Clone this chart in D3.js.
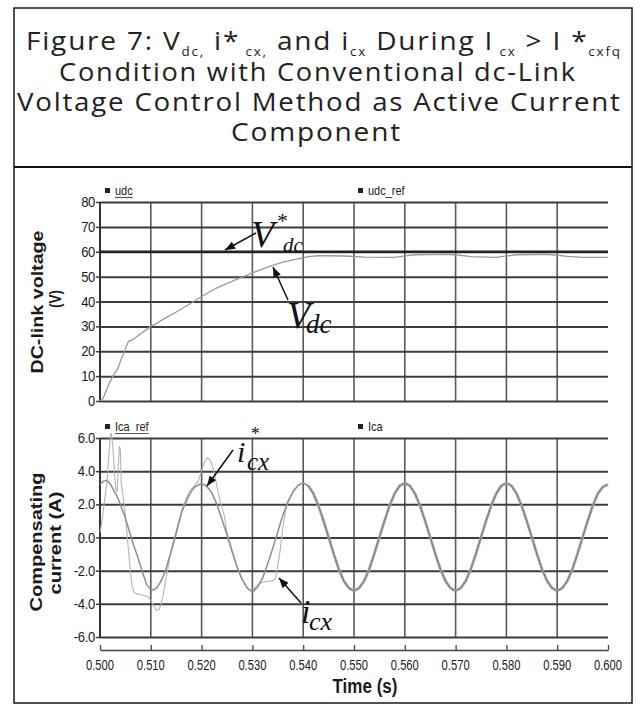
<!DOCTYPE html>
<html><head><meta charset="utf-8">
<script src="https://cdn.jsdelivr.net/npm/d3@7"></script>
<style>body{margin:0;background:#fff}</style>
</head><body>
<svg id="c" width="644" height="711" xmlns="http://www.w3.org/2000/svg"></svg>
<script>
// ---------- data ----------
const timeTicks = [0.500,0.510,0.520,0.530,0.540,0.550,0.560,0.570,0.580,0.590,0.600];
const timeTickLabels = ["0.500","0.510","0.520","0.530","0.540","0.550","0.560","0.570","0.580","0.590","0.600"];
const voltTicks = [0,10,20,30,40,50,60,70,80];
const voltTickLabels = ["0","10","20","30","40","50","60","70","80"];
const currTicks = [-6,-4,-2,0,2,4,6];
const currTickLabels = ["-6.0","-4.0","-2.0","0.0","2.0","4.0","6.0"];

const udc = [[0.5000,0],[0.5006,1],[0.5012,4],[0.5019,7.5],[0.5027,10.5],[0.5035,13],[0.5042,17],
 [0.5050,21],[0.5056,24],[0.5063,24.5],[0.5070,25.5],[0.5080,27],[0.5090,28.5],[0.5100,30],
 [0.5110,31],[0.5120,32.3],[0.5130,33.5],[0.5146,35.3],[0.5160,37],[0.5180,39.4],[0.5195,41.4],
 [0.5210,43.2],[0.5230,45.5],[0.5253,47.5],[0.5270,49],[0.5292,50.8],[0.5310,52.3],[0.5335,54.2],
 [0.5360,55.8],[0.5387,57],[0.5410,58],[0.5430,58.4],[0.5450,58.4],[0.5480,58.3],[0.5500,58.1],
 [0.5520,57.8],[0.5580,57.7],[0.5600,58.3],[0.5620,58.8],[0.5680,59.0],[0.5705,58.7],[0.5730,58.0],
 [0.5780,57.7],[0.5800,58.3],[0.5820,58.8],[0.5880,59.0],[0.5900,58.6],[0.5920,58.1],[0.5950,57.7],[0.6000,57.7]];
const udcRef = [[0.500,60],[0.600,60]];

const icaRefStart = [[0.5000,3.20],[0.5007,3.40],[0.5013,3.45],[0.5020,3.25],[0.5028,2.80],[0.5035,2.40],
 [0.5041,1.90],[0.5048,1.35],[0.5054,0.75],[0.5060,0.15],[0.5066,-0.45],[0.5073,-1.05],[0.5079,-1.65],
 [0.5086,-2.30],[0.5092,-2.85],[0.5097,-3.05],[0.5101,-3.15],[0.5106,-3.15],[0.5111,-3.05],[0.5117,-2.80],
 [0.5123,-2.45],[0.5130,-1.90],[0.5136,-1.25],[0.5143,-0.55],[0.5149,0.15],[0.5155,0.85],[0.5161,1.55],
 [0.5168,2.05],[0.5174,2.45],[0.5180,2.80],[0.5187,3.05],[0.5194,3.18],[0.5200,3.22],[0.5207,3.15],
 [0.5214,2.95],[0.5220,2.70],[0.5230,2.00],[0.5240,1.10],[0.5250,0.15],[0.5260,-0.85],[0.5270,-1.80],
 [0.5280,-2.55],[0.5290,-3.05],[0.5300,-3.30],[0.5310,-3.00],[0.5320,-2.45],[0.5330,-1.60],[0.5340,-0.65],
 [0.5350,0.35],[0.5360,1.35],[0.5370,2.15],[0.5380,2.75],[0.5390,3.15],[0.5400,3.30]];

const icaStart = [[0.5000,0.30],[0.5004,1.00],[0.5008,2.00],[0.5011,2.70],[0.5014,3.40],[0.5017,4.80],
 [0.5020,6.00],[0.5022,6.30],[0.5025,5.60],[0.5028,4.20],[0.5031,2.90],[0.5034,2.80],[0.5036,4.20],
 [0.5038,5.50],[0.5040,5.30],[0.5042,3.20],[0.5045,2.60],[0.5049,1.60],[0.5053,0.30],[0.5057,-1.10],
 [0.5060,-2.10],[0.5063,-2.90],[0.5067,-3.30],[0.5072,-3.40],[0.5080,-3.45],[0.5088,-3.50],[0.5095,-3.60],
 [0.5101,-3.85],[0.5106,-4.15],[0.5111,-4.40],[0.5116,-4.35],[0.5120,-4.05],[0.5124,-3.50],[0.5128,-2.80],
 [0.5133,-2.00],[0.5138,-1.10],[0.5143,-0.40],[0.5149,0.25],[0.5155,0.95],[0.5161,1.65],[0.5168,2.20],
 [0.5174,2.65],[0.5180,2.95],[0.5187,3.15],[0.5193,3.40],[0.5199,3.90],[0.5205,4.50],[0.5211,4.80],
 [0.5217,4.65],[0.5222,4.25],[0.5227,3.60],[0.5232,2.80],[0.5238,2.00],[0.5244,1.40],[0.5250,0.30],
 [0.5260,-0.75],[0.5270,-1.75],[0.5280,-2.55],[0.5290,-3.05],[0.5300,-3.25],[0.5310,-2.85],[0.5320,-2.70],
 [0.5330,-2.65],[0.5340,-2.60],[0.5345,-2.50],[0.5350,-1.70],[0.5355,-0.70],[0.5360,0.60],[0.5365,1.60],
 [0.5370,2.20],[0.5380,2.80],[0.5390,3.15],[0.5400,3.30]];

// steady state (both traces coincide)
const steadyState = [[0.541,3.12],[0.542,2.65],[0.543,1.92],[0.544,1.00],[0.545,0.02],[0.546,-0.98],
 [0.547,-1.90],[0.548,-2.62],[0.549,-3.05],[0.550,-3.22],[0.551,-3.05],[0.552,-2.62],[0.553,-1.90],
 [0.554,-0.98],[0.555,0.02],[0.556,1.00],[0.557,1.92],[0.558,2.65],[0.559,3.12],[0.560,3.28],
 [0.561,3.12],[0.562,2.65],[0.563,1.92],[0.564,1.00],[0.565,0.02],[0.566,-0.98],[0.567,-1.90],
 [0.568,-2.62],[0.569,-3.05],[0.570,-3.22],[0.571,-3.05],[0.572,-2.62],[0.573,-1.90],[0.574,-0.98],
 [0.575,0.02],[0.576,1.00],[0.577,1.92],[0.578,2.65],[0.579,3.12],[0.580,3.28],[0.581,3.12],
 [0.582,2.65],[0.583,1.92],[0.584,1.00],[0.585,0.02],[0.586,-0.98],[0.587,-1.90],[0.588,-2.62],
 [0.589,-3.05],[0.590,-3.22],[0.591,-3.05],[0.592,-2.62],[0.593,-1.90],[0.594,-0.98],[0.595,0.02],
 [0.596,1.00],[0.597,1.92],[0.598,2.65],[0.599,3.05],[0.600,3.20]];

const icaRef = icaRefStart.concat(steadyState);
const ica = icaStart.concat(steadyState);

const titleLines = [
  [["Figure 7: V",0],["dc,",1],[" i*",0],[" cx,",1],[" and i",0],["cx",1],[" During I",0],[" cx",1],[" > I *",0],["cxfq",1]],
  [["Condition with Conventional dc-Link",0]],
  [["Voltage Control Method as Active Current",0]],
  [["Component",0]]
];

// ---------- drawing ----------
const svg = d3.select("#c");
svg.append("rect").attr("width",644).attr("height",711).attr("fill","#fff");
const X0 = 100, X1 = 608;
const x = d3.scaleLinear().domain([0.5,0.6]).range([X0,X1]);
const yV = d3.scaleLinear().domain([0,80]).range([401,202]);
const yI = d3.scaleLinear().domain([-6,6]).range([637,438]);

// frame
svg.append("rect").attr("x",14).attr("y",8).attr("width",618).attr("height",695)
  .attr("fill","none").attr("stroke","#1a1a1a").attr("stroke-width",1.5);
svg.append("line").attr("x1",14).attr("x2",632).attr("y1",167).attr("y2",167)
  .attr("stroke","#111").attr("stroke-width",2.2);

// title
const titleX = [26,59,17,231], titleW = [596,518,605,171], titleY = [50,80.5,110.5,140.5];
titleLines.forEach((parts,i)=>{
  const t = svg.append("text")
    .attr("font-family","'Open Sans', Lato, sans-serif").attr("font-size",25).attr("font-weight",400)
    .attr("fill","#222").style("letter-spacing","1.6px");
  let sub = 0;
  parts.forEach(([s,isSub])=>{
    const ts = t.append("tspan").text(s);
    if (isSub && !sub) { ts.attr("dy",6).attr("font-size",12); sub=1; }
    else if (isSub) ts.attr("font-size",12);
    else if (!isSub && sub) { ts.attr("dy",-6); sub=0; }
  });
  const w = t.node().getComputedTextLength();
  t.attr("transform",`translate(${titleX[i]},${titleY[i]}) scale(${titleW[i]/w},1)`);
});

function panel(y, ticks, labels) {
  const g = svg.append("g");
  const [yb, yt] = y.range();
  g.selectAll("line.v").data(timeTicks.slice(1,-1)).join("line")
    .attr("x1",d=>x(d)).attr("x2",d=>x(d)).attr("y1",yt).attr("y2",yb)
    .attr("stroke","#5a5a5a").attr("stroke-width",1.6);
  const grid = g.append("g").attr("transform",`translate(${X0},0)`)
    .call(d3.axisLeft(y).tickValues(ticks).tickSizeInner(-(X1-X0)).tickSizeOuter(0).tickFormat(""));
  grid.select(".domain").remove();
  grid.selectAll("line").attr("stroke","#3c3c3c").attr("stroke-width",2);
  const tk = g.append("g").attr("transform",`translate(${X0},0)`)
    .call(d3.axisLeft(y).tickValues(ticks).tickSize(4).tickFormat(""));
  tk.select(".domain").remove();
  tk.selectAll("line").attr("stroke","#3c3c3c").attr("stroke-width",1.5);
  g.append("line").attr("x1",X0).attr("x2",X0).attr("y1",yt).attr("y2",yb)
    .attr("stroke","#333").attr("stroke-width",2);
  g.selectAll("text.yl").data(ticks).join("text")
    .attr("transform",d=>`translate(95,${y(d)+5}) scale(1,1.1)`).attr("text-anchor","end")
    .attr("font-family","'Liberation Sans', Arial, sans-serif").attr("font-size",13).attr("fill","#1a1a1a")
    .attr("letter-spacing",-0.3)
    .text((d,i)=>labels[i]);
}
panel(yV, voltTicks, voltTickLabels);
panel(yI, currTicks, currTickLabels);

// x axis
const xa = svg.append("g").attr("transform","translate(0,650)")
  .call(d3.axisBottom(x).tickValues(timeTicks).tickSizeInner(-5).tickSizeOuter(0).tickFormat(""));
xa.select(".domain").attr("stroke","#444").attr("stroke-width",1.5);
xa.selectAll("line").attr("stroke","#444").attr("stroke-width",1.3);
svg.selectAll("text.xl").data(timeTicks).join("text")
  .attr("transform",d=>`translate(${x(d)},670) scale(1,1.25)`).attr("text-anchor","middle")
  .attr("font-family","'Liberation Sans', Arial, sans-serif").attr("font-size",12).attr("fill","#1a1a1a")
  .attr("textLength",28).attr("lengthAdjust","spacingAndGlyphs")
  .text((d,i)=>timeTickLabels[i]);

// axis titles
function stretched(tx,ty,s,size,sy,rot,len){
  const t = svg.append("text").attr("transform",`translate(${tx},${ty}) rotate(${rot}) scale(1,${sy})`)
    .attr("text-anchor","middle").attr("font-family","'Liberation Sans', Arial, sans-serif")
    .attr("font-weight","bold").attr("font-size",size).attr("fill","#1a1a1a").text(s);
  if (len) t.attr("textLength",len).attr("lengthAdjust","spacingAndGlyphs");
  return t;
}
stretched(43,302,"DC-link voltage",16,1,-90,143);
stretched(61,299,"(V)",16,1,-90,18);
stretched(42,542,"Compensating",16,1,-90,139);
stretched(61,543,"current (A)",16,1,-90,103);
stretched(365,693,"Time (s)",16,1.3,0,65);

// legends
function legend(lx,ly,s,underline){
  svg.append("rect").attr("x",lx).attr("y",ly-7).attr("width",5).attr("height",5).attr("fill","#222");
  const t = svg.append("text").attr("transform",`translate(${lx+10},${ly}) scale(1,1.2)`)
    .attr("font-family","'Liberation Sans', Arial, sans-serif").attr("font-size",11).attr("fill","#222").text(s);
  if (underline) {
    const w = t.node().getComputedTextLength();
    svg.append("line").attr("x1",lx+10).attr("x2",lx+10+w).attr("y1",ly+2.5).attr("y2",ly+2.5)
      .attr("stroke","#555").attr("stroke-width",1.2);
  }
}
legend(105,195,"udc",true);
legend(358,195,"udc_ref",false);
legend(105,431,"Ica_ref",true);
legend(358,431,"Ica",false);

// series
const lineV = d3.line().x(d=>x(d[0])).y(d=>yV(d[1]));
const lineI = d3.line().x(d=>x(d[0])).y(d=>yI(d[1]));
svg.append("path").attr("d",lineV(udcRef)).attr("fill","none").attr("stroke","#222").attr("stroke-width",2.6);
svg.append("path").attr("d",lineV(udc)).attr("fill","none").attr("stroke","#9a9a9a").attr("stroke-width",1.3);

svg.append("path").attr("d",lineI(ica)).attr("fill","none").attr("stroke","#b4b4b4").attr("stroke-width",1.1);
svg.append("path").attr("d",lineI(steadyState)).attr("fill","none").attr("stroke","#b0b0b0").attr("stroke-width",3).attr("opacity",0.85);
svg.append("path").attr("d",lineI(icaRef)).attr("fill","none").attr("stroke","#8e8e8e").attr("stroke-width",1.5);
svg.append("path").attr("d",lineI(steadyState)).attr("fill","none").attr("stroke","#6a6a6a").attr("stroke-width",0.9).attr("stroke-dasharray","1.5,2.5");

// annotations
const defs = svg.append("defs");
defs.append("marker").attr("id","ah").attr("viewBox","0 0 10 8").attr("refX",10).attr("refY",4)
  .attr("markerWidth",11).attr("markerHeight",8).attr("markerUnits","userSpaceOnUse").attr("orient","auto")
  .append("path").attr("d","M0,0 L10,4 L0,8 z").attr("fill","#111");
function arrow(x1,y1,x2,y2){
  svg.append("line").attr("x1",x1).attr("y1",y1).attr("x2",x2).attr("y2",y2)
    .attr("stroke","#111").attr("stroke-width",1.5).attr("marker-end","url(#ah)");
}
function it(tx,ty,s,size){
  return svg.append("text").attr("x",tx).attr("y",ty).attr("font-family","'Liberation Serif','Times New Roman',serif")
    .attr("font-style","italic").attr("font-size",size).attr("fill","#111").text(s);
}
arrow(256,233,225,250);
it(251,247,"V",38); it(276,228,"*",22); it(283,252,"dc",21);
arrow(288,300,273,267);
it(287,328,"V",38); it(306,333,"dc",27);
arrow(233,450,207,486);
it(237,462,"i",30); it(250,440,"*",18); it(247,470,"cx",25);
arrow(301,603,279,578);
it(301,623,"i",34); it(309,630,"cx",26);
</script>
</body></html>
